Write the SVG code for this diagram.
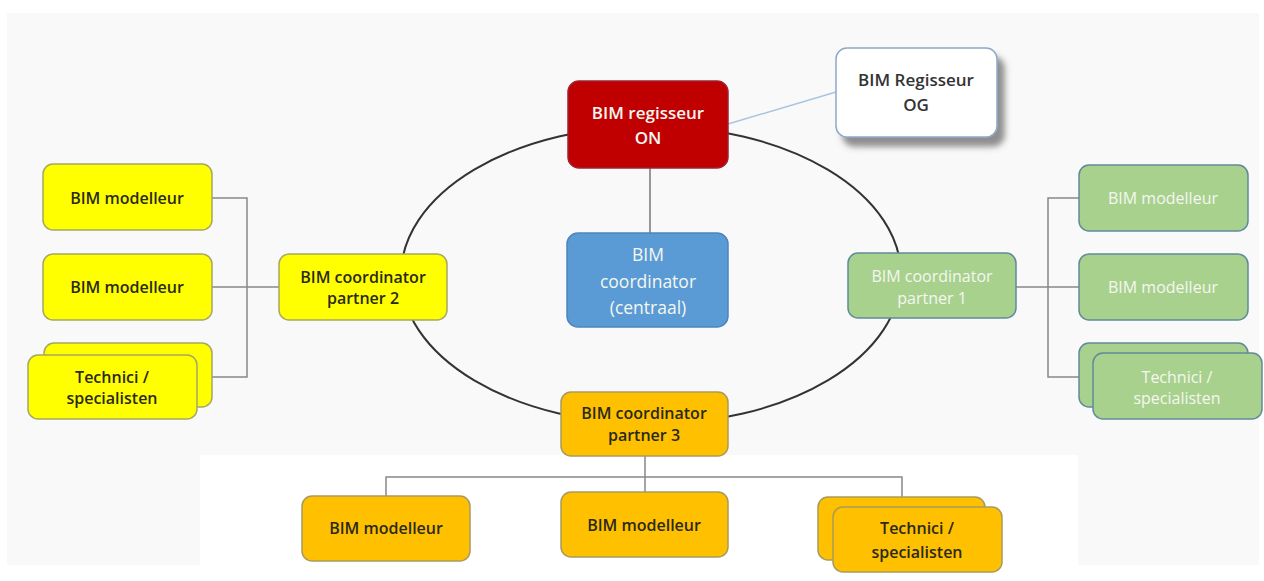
<svg xmlns="http://www.w3.org/2000/svg" width="1264" height="581" viewBox="0 0 1264 581">
  <defs>
    <filter id="shadow" x="-20%" y="-20%" width="150%" height="160%">
      <feDropShadow dx="7" dy="9" stdDeviation="3" flood-color="#555" flood-opacity="0.65"/>
    </filter>
  </defs>
  <style>
    text { font-family: "Open Sans", "Liberation Sans", sans-serif; font-size: 16px; text-anchor: middle; }
    .dark { fill: #2a2a1a; font-weight: 600; }
    .light { fill: #f4f7f0; }
    .yellow { fill: #ffff00; stroke: #a4a860; stroke-width: 1.5; }
    .orange { fill: #ffc000; stroke: #a89a5c; stroke-width: 1.5; }
    .green { fill: #a9d18e; stroke: #5f8a9a; stroke-width: 1.5; }
    .conn { fill: none; stroke: #888; stroke-width: 1.5; }
  </style>
  <rect x="0" y="0" width="1264" height="581" fill="#ffffff"/>
  <rect x="7" y="13" width="1252" height="552" fill="#f9f9f9"/>
  <rect x="200" y="455" width="878" height="110" fill="#ffffff"/>

  <g id="connectors">
    <ellipse cx="651" cy="275" rx="250" ry="149" fill="none" stroke="#333" stroke-width="2"/>
    <line x1="650" y1="168" x2="650" y2="233" stroke="#777" stroke-width="1.5"/>
    <line x1="728" y1="124" x2="836" y2="92" stroke="#a8c4e0" stroke-width="1.5"/>
    <path class="conn" d="M212 198 H247 V377 H212 M212 287 H279"/>
    <path class="conn" d="M1079 198 H1048 V377 H1079 M1016 287 H1079"/>
    <path class="conn" d="M645 456 V477 M386 496 V477 H902 V497 M645 477 V492"/>
  </g>

  <g id="og">
    <rect x="836" y="48" width="161" height="89" rx="11" fill="#ffffff" stroke="#8fa8c8" stroke-width="1.5" filter="url(#shadow)"/>
    <text x="916" y="86" style="fill:#333;font-size:17px;font-weight:600">BIM Regisseur</text>
    <text x="916" y="111" style="fill:#333;font-size:17px;font-weight:600">OG</text>
  </g>

  <g id="on">
    <rect x="568" y="81" width="160" height="87" rx="11" fill="#c00000" stroke="#a02030" stroke-width="1.5"/>
    <text x="648" y="119" class="light" style="font-size:17px;font-weight:600">BIM regisseur</text>
    <text x="648" y="144" class="light" style="font-size:17px;font-weight:600">ON</text>
  </g>

  <g id="centraal">
    <rect x="567" y="233" width="161" height="94" rx="11" fill="#5b9bd5" stroke="#4a86bc" stroke-width="1.5"/>
    <text x="648" y="261" class="light" style="font-size:17.5px">BIM</text>
    <text x="648" y="288" class="light" style="font-size:17.5px">coordinator</text>
    <text x="648" y="314" class="light" style="font-size:17.5px">(centraal)</text>
  </g>

  <g id="p2">
    <rect x="279" y="254" width="168" height="66" rx="10" class="yellow"/>
    <text x="363" y="283" class="dark">BIM coordinator</text>
    <text x="363" y="304" class="dark">partner 2</text>
  </g>
  <g id="l-m1">
    <rect x="43" y="164" width="169" height="66" rx="10" class="yellow"/>
    <text x="127" y="204" class="dark">BIM modelleur</text>
  </g>
  <g id="l-m2">
    <rect x="43" y="254" width="169" height="66" rx="10" class="yellow"/>
    <text x="127" y="293" class="dark">BIM modelleur</text>
  </g>
  <g id="l-tech">
    <rect x="44" y="343" width="168" height="64" rx="10" class="yellow"/>
    <rect x="28" y="355" width="169" height="64" rx="10" class="yellow"/>
    <text x="112" y="383" class="dark">Technici /</text>
    <text x="112" y="404" class="dark">specialisten</text>
  </g>

  <g id="p1">
    <rect x="848" y="253" width="168" height="65" rx="10" class="green"/>
    <text x="932" y="282" class="light">BIM coordinator</text>
    <text x="932" y="304" class="light">partner 1</text>
  </g>
  <g id="r-m1">
    <rect x="1079" y="165" width="169" height="66" rx="10" class="green"/>
    <text x="1163" y="204" class="light">BIM modelleur</text>
  </g>
  <g id="r-m2">
    <rect x="1079" y="254" width="169" height="66" rx="10" class="green"/>
    <text x="1163" y="293" class="light">BIM modelleur</text>
  </g>
  <g id="r-tech">
    <rect x="1079" y="343" width="169" height="64" rx="10" class="green"/>
    <rect x="1093" y="353" width="169" height="66" rx="10" class="green"/>
    <text x="1177" y="383" class="light">Technici /</text>
    <text x="1177" y="404" class="light">specialisten</text>
  </g>

  <g id="p3">
    <rect x="561" y="392" width="167" height="64" rx="10" class="orange"/>
    <text x="644" y="419" class="dark">BIM coordinator</text>
    <text x="644" y="441" class="dark">partner 3</text>
  </g>
  <g id="b-m1">
    <rect x="302" y="496" width="168" height="65" rx="10" class="orange"/>
    <text x="386" y="534" class="dark">BIM modelleur</text>
  </g>
  <g id="b-m2">
    <rect x="561" y="492" width="167" height="65" rx="10" class="orange"/>
    <text x="644" y="531" class="dark">BIM modelleur</text>
  </g>
  <g id="b-tech">
    <rect x="818" y="497" width="167" height="63" rx="10" class="orange"/>
    <rect x="833" y="507" width="169" height="65" rx="10" class="orange"/>
    <text x="917" y="534" class="dark">Technici /</text>
    <text x="917" y="558" class="dark">specialisten</text>
  </g>
</svg>
